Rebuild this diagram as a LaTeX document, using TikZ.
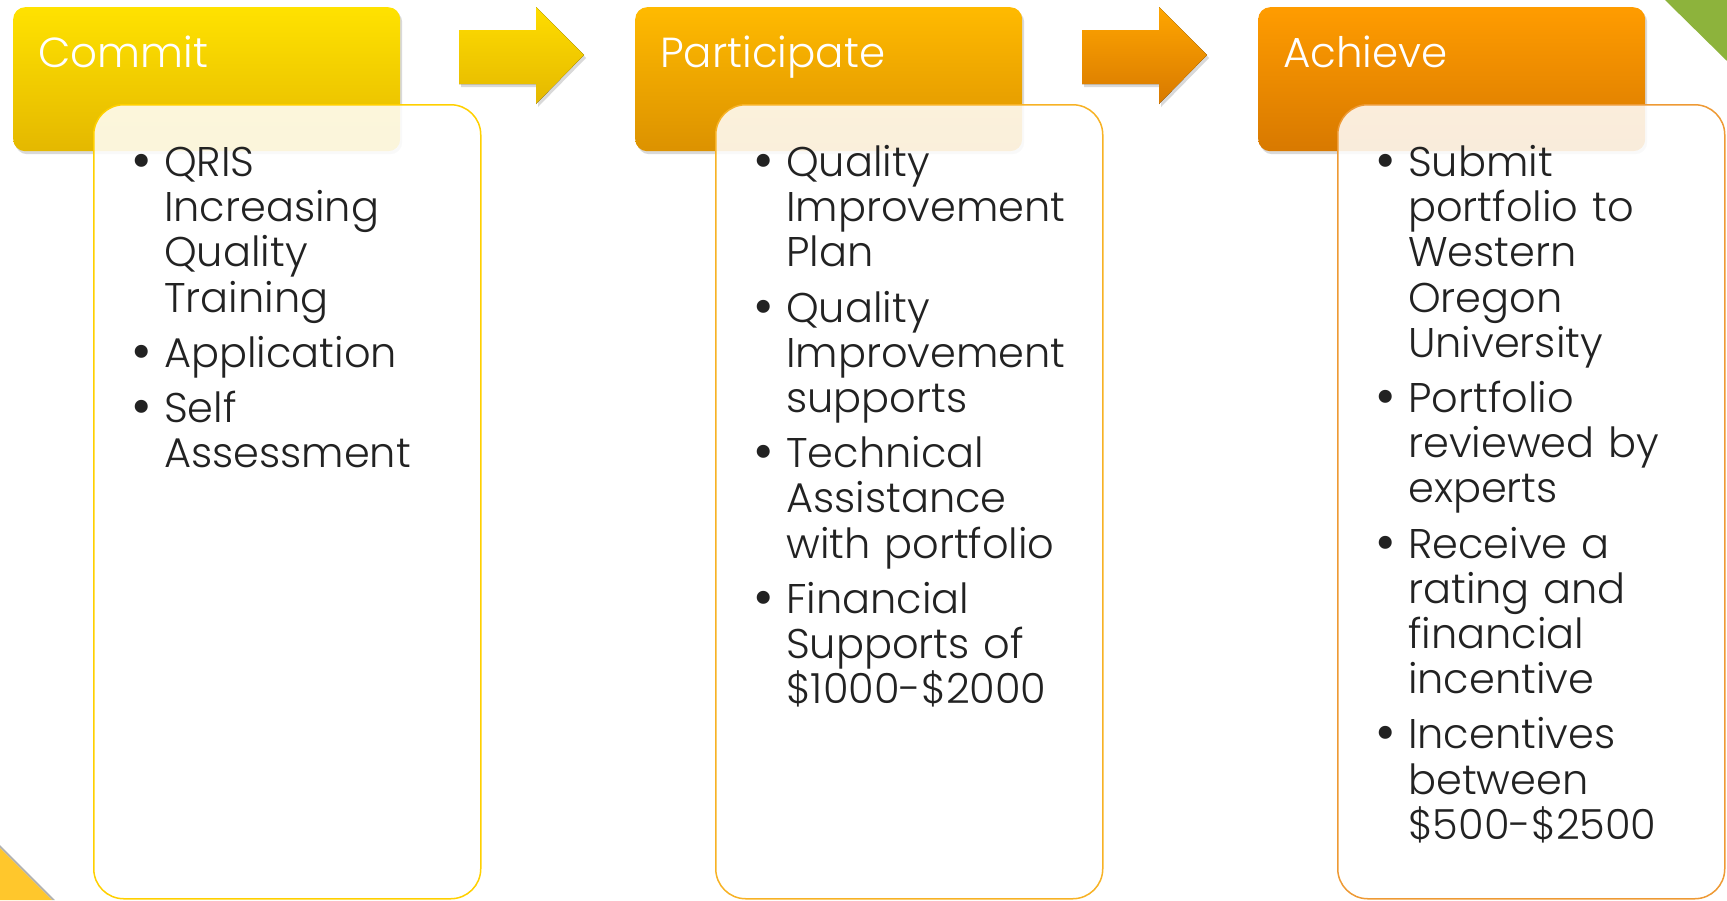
\documentclass[tikz,border=0pt]{standalone}
\usepackage{fontspec}
\setmainfont{Poppins}[UprightFont=* Light]
\usetikzlibrary{positioning}
\usetikzlibrary{shadows}

\definecolor{commitTop}{HTML}{FFE200}
\definecolor{commitBot}{HTML}{E4B800}
\definecolor{partTop}{HTML}{FFBA00}
\definecolor{partBot}{HTML}{DC9200}
\definecolor{achTop}{HTML}{FF9C00}
\definecolor{achBot}{HTML}{D87900}
\definecolor{commitLine}{HTML}{FFD000}
\definecolor{partLine}{HTML}{F7B225}
\definecolor{achLine}{HTML}{EE9A35}
\definecolor{txtgray}{HTML}{222222}
\definecolor{cornerGreen}{HTML}{8DB33C}
\definecolor{cornerYellow}{HTML}{FFC72C}

\newcommand{\nl}{\hfil\break}
\newcommand{\bitem}[1]{\par\noindent\hangindent=24pt\hangafter=1%
  \makebox[24pt][l]{\hspace*{-9pt}\smash{\raisebox{-3pt}{\fontsize{56}{45}\selectfont\textbullet}}}\strut#1}

\begin{document}
\begin{tikzpicture}
    [
    x=1pt,y=-1pt,
    header/.style={rounded corners=12pt,inner sep=0pt,minimum width=387pt,minimum height=144pt,
      anchor=north west,drop shadow={opacity=0.3,shadow xshift=2pt,shadow yshift=-3pt}},
    headtext/.style={anchor=base west,inner sep=0pt,text=white,font=\fontsize{42}{48}\selectfont},
    card/.style={rounded corners=30pt,line width=1.5pt,fill=white,fill opacity=0.86,
      inner sep=0pt,minimum width=387pt,minimum height=794pt,anchor=north west},
    listtext/.style={anchor=north west,inner sep=0pt,text width=345pt,text=txtgray,
      font=\fontsize{41.5}{45.2}\selectfont\setlength{\parskip}{10pt}\raggedright},
    blockarrow/.style={drop shadow={opacity=0.3,shadow xshift=2pt,shadow yshift=-3pt}},
    ]
    \useasboundingbox (0,0) rectangle (1727,900);

    % corner decorations
    \fill[cornerGreen] (1665,0) -- (1727,0) -- (1727,61) -- cycle;
    \fill[black!30] (0,845) -- (55,900) -- (52,900) -- (0,848) -- cycle;
    \fill[cornerYellow] (0,848) -- (52,900) -- (0,900) -- cycle;

    % headers
    \node (hdrCommit) at (13,7) [header,top color=commitTop,bottom color=commitBot] {};
    \node (hdrParticipate) at (635,7) [header,top color=partTop,bottom color=partBot] {};
    \node (hdrAchieve) at (1258,7) [header,top color=achTop,bottom color=achBot] {};
    \node (tCommit) at (38,67) [headtext] {Commit};
    \node (tParticipate) at (660,67) [headtext] {Participate};
    \node (tAchieve) at (1283,67) [headtext] {Achieve};

    % arrows between steps
    \fill[blockarrow,top color=commitTop!95!orange,bottom color=commitBot]
      (459,30) -- (536,30) -- (536,7) -- (584,55) -- (536,104) -- (536,84) -- (459,84) -- cycle;
    \fill[blockarrow,top color=achTop!90!yellow,bottom color=achBot]
      (1082,30) -- (1159,30) -- (1159,7) -- (1207,55) -- (1159,104) -- (1159,84) -- (1082,84) -- cycle;

    % cards
    \node (boxCommit) at (93,104) [card,draw=commitLine] {};
    \node (boxParticipate) at (715,104) [card,draw=partLine] {};
    \node (boxAchieve) at (1337,104) [card,draw=achLine] {};

    \node (listCommit) at (140,121) [listtext] {%
      \bitem{QRIS\nl Increasing\nl Quality\nl Training}
      \bitem{Application}
      \bitem{Self\nl Assessment}\par};
    \node (listParticipate) at (762,121) [listtext] {%
      \bitem{Quality\nl Improvement\nl Plan}
      \bitem{Quality\nl Improvement\nl supports}
      \bitem{Technical\nl Assistance\nl with portfolio}
      \bitem{Financial\nl Supports of\nl \$1000-\$2000}\par};
    \node (listAchieve) at (1384,121) [listtext] {%
      \bitem{Submit\nl portfolio to\nl Western\nl Oregon\nl University}
      \bitem{Portfolio\nl reviewed by\nl experts}
      \bitem{Receive a\nl rating and\nl financial\nl incentive}
      \bitem{Incentives\nl between\nl \$500-\$2500}\par};
  \end{tikzpicture}
\end{document}
